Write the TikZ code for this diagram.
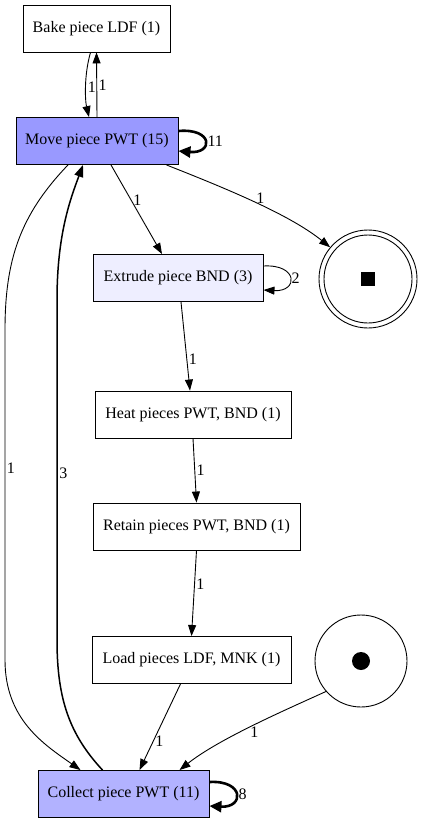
\documentclass[tikz,border=0pt]{standalone}
\usepackage{fontspec}
\setmainfont{Liberation Serif}
\usetikzlibrary{arrows.meta, calc}

\definecolor{movefill}{RGB}{153,153,255}
\definecolor{collectfill}{RGB}{178,178,255}
\definecolor{extrudefill}{RGB}{238,238,255}

\begin{document}
\begin{tikzpicture}[x=1pt, y=-1pt,
    act/.style={draw, line width=0.9pt, minimum height=47pt, font=\fontsize{16}{19}\selectfont},
    edge/.style={line width=0.9pt, -{Triangle[length=11pt, width=8pt]}},
    heavy/.style={line width=2.6pt, -{Triangle[length=12pt, width=11pt]}},
    bold/.style={line width=1.5pt, -{Triangle[length=12pt, width=9pt]}},
    lbl/.style={font=\fontsize{16}{19}\selectfont, inner sep=1.5pt}
]
    \useasboundingbox (0,0) rectangle (422,824);

    % activities
    \node[act, minimum width=147pt] (bake) at (96.5,28.5) {Bake piece LDF (1)};
    \node[act, minimum width=162pt, fill=movefill] (move) at (97,141) {Move piece PWT (15)};
    \node[act, minimum width=170pt, fill=extrudefill] (extrude) at (178,278) {Extrude piece BND (3)};
    \node[act, minimum width=196pt] (heat) at (193,414.5) {Heat pieces PWT, BND (1)};
    \node[act, minimum width=207pt] (retain) at (196.5,526.5) {Retain pieces PWT, BND (1)};
    \node[act, minimum width=199pt] (load) at (191.5,660) {Load pieces LDF, MNK (1)};
    \node[act, minimum width=171pt, fill=collectfill] (collect) at (123.5,794) {Collect piece PWT (11)};

    % start and end places
    \node[draw, circle, line width=0.9pt, minimum size=92pt, inner sep=0pt] (start) at (361,661) {};
    \node[fill, circle, minimum size=18pt, inner sep=0pt] (startdot) at (start) {};
    \node[draw, circle, line width=0.9pt, minimum size=98pt, inner sep=0pt] (final) at (368,279) {};
    \node[draw, circle, line width=0.9pt, minimum size=88pt, inner sep=0pt] (finalin) at (final) {};
    \node[fill, minimum size=14pt, inner sep=0pt] (finalsq) at (final) {};

    % arcs
    \draw[edge] ([xshift=-6pt]bake.south) .. controls (84,75) and (85,100) .. ([xshift=-8pt]move.north)
        node[lbl, right, pos=.5] {1};
    \draw[edge] (move.north) -- (bake.south) node[lbl, right, pos=.5] {1};
    \draw[heavy] ([yshift=10pt]move.east) .. controls +(35,-3) and +(35,3) .. ([yshift=-10pt]move.east)
        node[lbl, right, pos=.5] {11};
    \draw[edge] ([xshift=14pt]move.south) -- ([xshift=-16pt]extrude.north) node[lbl, right, pos=.4] {1};
    \draw[edge] ([xshift=-12pt]move.south east) .. controls (230,190) and (290,215) .. (final.140)
        node[lbl, above, pos=.52] {1};
    \draw[edge] ([yshift=12pt]extrude.east) .. controls +(35,-2) and +(35,2) .. ([yshift=-12pt]extrude.east)
        node[lbl, right, pos=.5] {2};
    \draw[edge] ([xshift=3pt]extrude.south) -- ([xshift=-3pt]heat.north) node[lbl, right, pos=.65] {1};
    \draw[edge] (heat.south) -- (retain.north) node[lbl, right, pos=.5] {1};
    \draw[edge] (retain.south) -- (load.north) node[lbl, right, pos=.4] {1};
    \draw[edge] ([xshift=-11pt]load.south) -- ([xshift=16pt]collect.north) node[lbl, right, pos=.66] {1};
    \draw[edge] (start.221) .. controls (290,708) and (220,738) .. ([xshift=56pt]collect.north)
        node[lbl, below, pos=.5] {1};
    \draw[edge] ([xshift=-29pt]move.south) .. controls (20,215) and (5,260) .. (5,330)
        -- node[lbl, right, pos=.42] {1} (5,660)
        .. controls (5,720) and (45,745) .. ([xshift=-43pt]collect.north);
    \draw[bold] ([xshift=-21pt]collect.north) .. controls (70,735) and (57,700) .. (57,640)
        -- node[lbl, right, pos=.49] {3} (57,300)
        .. controls (57,235) and (70,200) .. ([xshift=-14pt]move.south);
    \draw[heavy] ([yshift=12pt]collect.east) .. controls +(35,-2) and +(35,2) .. ([yshift=-12pt]collect.east)
        node[lbl, right, pos=.5] {8};
\end{tikzpicture}
\end{document}
